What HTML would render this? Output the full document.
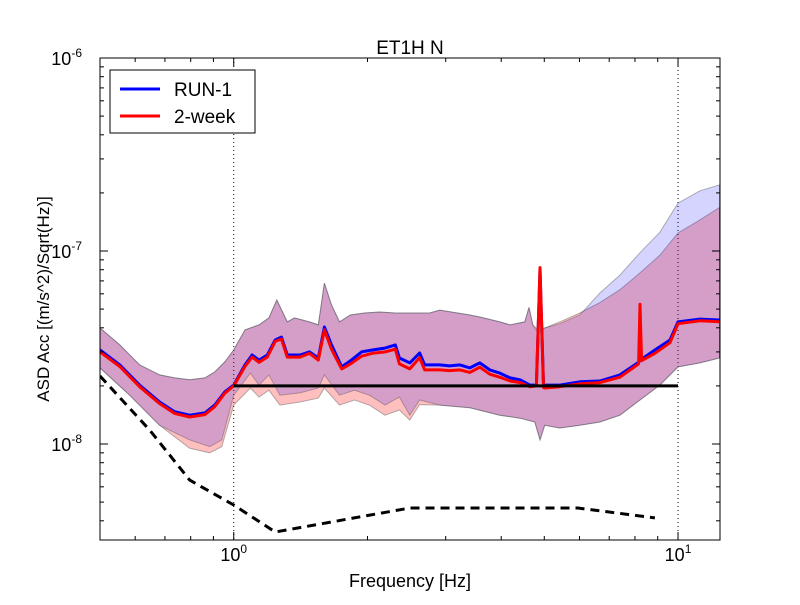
<!DOCTYPE html>
<html><head><meta charset="utf-8"><style>
body{margin:0;background:#fff}
svg{font-family:"Liberation Sans","DejaVu Sans",sans-serif}
</style></head><body>
<svg id="chart" width="800" height="600" viewBox="0 0 800 600" xmlns="http://www.w3.org/2000/svg">
<rect width="800" height="600" fill="#fff"/>
<defs><clipPath id="pc"><rect x="100" y="58" width="620" height="482"/></clipPath></defs>
<g id="grid"></g>
<g id="plot" clip-path="url(#pc)"></g>
<rect x="100" y="58" width="620" height="482" fill="none" stroke="#000" stroke-width="1"/>
<g id="ticks"></g>
<text x="410" y="54" font-size="19" text-anchor="middle">ET1H N</text>
<text x="410" y="587" font-size="18" text-anchor="middle">Frequency [Hz]</text>
<text transform="translate(49,299) rotate(-90)" font-size="17" text-anchor="middle">ASD Acc [(m/s^2)/Sqrt(Hz)]</text>
<g>
<rect x="110" y="70" width="145" height="63" fill="#fff" stroke="#000" stroke-width="1"/>
<line x1="120" y1="89" x2="160" y2="89" stroke="#00f" stroke-width="3"/>
<text x="174" y="96" font-size="19">RUN-1</text>
<line x1="120" y1="116" x2="160" y2="116" stroke="#f00" stroke-width="3"/>
<text x="174" y="123" font-size="19">2-week</text>
</g>
</svg>
<script>
const upFreq=[.5,.554,.614,.681,.736,.796,.861,.906,.954,1,1.06,1.14,1.20,1.25,1.32,1.37,1.48,1.55,1.60,1.66,1.73,1.83,1.97,2.13,2.31,2.49,2.76,2.91,3.40,3.58,3.97,4.19,4.52,4.62,4.71,4.84,5.01,5.42,6.01,6.67,7.40,8.21,9.10,10,11.2,12.4];
const run1Upper=[3.99,3.26,2.57,2.28,2.20,2.15,2.20,2.36,2.66,3.07,3.90,4.14,4.50,5.57,4.29,4.50,4.29,4.14,6.82,5.25,4.29,4.66,4.77,4.83,4.77,4.77,4.77,4.94,4.66,4.55,4.29,4.14,4.29,5.1,4.14,3.76,3.99,4.2,4.66,6.06,7.5,9.8,12.5,17.7,20.5,22.0];
const weekUpper=[3.99,3.26,2.57,2.28,2.20,2.15,2.20,2.36,2.66,3.07,3.90,4.14,4.50,5.57,4.29,4.50,4.29,4.14,6.82,5.25,4.29,4.66,4.77,4.83,4.77,4.77,4.77,4.94,4.66,4.55,4.29,4.14,4.29,5.1,4.14,3.90,3.99,4.29,4.77,5.4,6.3,7.7,9.5,12.4,14.5,16.8];
const lowFreq=[.5,.583,.681,.796,.883,.940,1,1.09,1.14,1.20,1.27,1.41,1.55,1.60,1.73,1.87,2.02,2.19,2.36,2.49,2.62,2.91,3.40,3.97,4.41,4.76,4.89,5.01,5.42,6.01,6.67,7.40,8.21,9.10,10,11.2,12.4];
const run1Lower=[2.48,1.79,1.25,1.05,.97,1.05,1.79,2.33,2.02,2.28,1.79,1.84,1.95,2.28,1.79,1.90,1.79,1.59,1.75,1.41,1.69,1.59,1.54,1.41,1.36,1.30,1.05,1.25,1.21,1.25,1.30,1.41,1.69,2.02,2.51,2.63,2.79];
const weekLower=[2.48,1.79,1.25,.95,.90,.97,1.59,1.95,1.75,1.90,1.59,1.65,1.73,1.95,1.59,1.69,1.59,1.41,1.50,1.33,1.60,1.59,1.54,1.41,1.36,1.30,1.05,1.25,1.21,1.25,1.30,1.41,1.69,2.02,2.51,2.63,2.79];
const midFreq=[.5,.554,.614,.681,.736,.796,.861,.906,.954,1,1.06,1.10,1.14,1.19,1.24,1.28,1.32,1.41,1.48,1.55,1.60,1.66,1.75,1.84,1.94,2.05,2.19,2.31,2.36,2.49,2.62,2.69,2.91,3.06,3.23,3.40,3.58,3.77,3.97,4.19,4.41,4.64,4.80,4.89,4.98,5.01,5.42,6.01,6.67,7.40,8.15,8.21,8.28,8.87,9.59,10,11.2,12.4];
const run1Mid=[3.07,2.57,2.02,1.65,1.47,1.41,1.45,1.59,1.86,2.02,2.57,2.89,2.72,2.89,3.46,3.58,2.89,2.89,3.00,2.79,4.04,3.26,2.51,2.72,3.00,3.07,3.14,3.26,2.79,2.63,2.96,2.57,2.57,2.54,2.57,2.48,2.63,2.42,2.33,2.20,2.15,2.02,2.02,8.0,2.02,2.02,2.02,2.10,2.12,2.28,2.65,2.72,2.75,3.07,3.46,4.29,4.44,4.39];
const weekMid=[3.0,2.52,1.98,1.62,1.44,1.38,1.42,1.56,1.83,2.0,2.52,2.82,2.65,2.82,3.40,3.5,2.82,2.82,2.95,2.72,3.9,3.1,2.45,2.62,2.85,2.95,3.0,3.1,2.6,2.45,2.8,2.42,2.42,2.4,2.42,2.35,2.5,2.3,2.22,2.12,2.08,1.98,2.0,8.2,1.96,1.95,1.98,2.05,2.08,2.22,2.6,5.3,2.7,2.95,3.35,4.2,4.35,4.3];
const limitFreq=[1,10];
const limitVal=[2,2];
const modelFreq=[.5,.647,.796,1,1.24,2.49,5.95,8.87];
const modelVal=[2.25,1.18,.65,.483,.35,.466,.466,.414];
const xTicks=[1,10];
const yTicks=[-8,-7,-6];

const X0=100,X1=720,Y0=58,Y1=540;
const lxmin=Math.log10(0.5),lxmax=Math.log10(12.43),lymax=-6,lymin=-8-96/193;
function sx(f){return X0+(Math.log10(f)-lxmin)/(lxmax-lxmin)*(X1-X0);}
function sy(v){return Y0+(lymax-Math.log10(v*1e-8))/(lymax-lymin)*(Y1-Y0);}
const NS='http://www.w3.org/2000/svg';
function mk(tag,attrs,parent){const e=document.createElementNS(NS,tag);for(const k in attrs)e.setAttribute(k,attrs[k]);parent.appendChild(e);return e;}
function pts(fs,vs){return fs.map((f,i)=>sx(f).toFixed(1)+','+sy(vs[i]).toFixed(1));}
const plot=document.getElementById('plot'),grid=document.getElementById('grid'),ticks=document.getElementById('ticks');

function band(uf,uv,lf,lv,fill,name){
  const p=pts(uf,uv).concat(pts(lf,lv).reverse());
  const el=mk('polygon',{points:p.join(' '),fill:fill,stroke:'rgba(90,90,90,0.45)','stroke-width':1},plot);
  
  
}
band(upFreq,weekUpper,lowFreq,weekLower,'rgba(255,0,0,0.25)','band-2week');
band(upFreq,run1Upper,lowFreq,run1Lower,'rgba(0,0,255,0.17)','band-run1');

function line(fs,vs,stroke,w,name,dash){
  const el=mk('polyline',{points:pts(fs,vs).join(' '),fill:'none',stroke:stroke,'stroke-width':w,'stroke-linejoin':'round'},plot);
  if(dash)el.setAttribute('stroke-dasharray',dash);
  
  
}
line(midFreq,run1Mid,'#00f',3,'line-run1');
line(midFreq,weekMid,'#f00',3,'line-2week');
line(limitFreq,limitVal,'#000',3,'limit-line');
line(modelFreq,modelVal,'#000',3,'model-dashed-line','9,6');

xTicks.forEach((t,i)=>{
  const x=sx(t);
  const g=mk('line',{x1:x,x2:x,y1:Y0,y2:Y1,stroke:'#000','stroke-dasharray':'1,3','stroke-width':1},grid);
  
  
  mk('line',{x1:x,x2:x,y1:Y1,y2:Y1-8,stroke:'#000'},ticks);
  mk('line',{x1:x,x2:x,y1:Y0,y2:Y0+8,stroke:'#000'},ticks);
  const tx=mk('text',{x:x,y:561,'font-size':18,'text-anchor':'middle'},ticks);
  
  
  tx.textContent='10';
  const s=mk('tspan',{dy:-8,'font-size':12},tx);s.textContent=String(Math.round(Math.log10(t)));
});
for(let d=-1;d<=1;d++)for(let m=2;m<=9;m++){const f=m*Math.pow(10,d);if(f<0.5||f>12.43)continue;const x=sx(f);
  mk('line',{x1:x,x2:x,y1:Y1,y2:Y1-4,stroke:'#000'},ticks);mk('line',{x1:x,x2:x,y1:Y0,y2:Y0+4,stroke:'#000'},ticks);}
yTicks.forEach(e=>{
  const y=sy(Math.pow(10,e+8));
  if(e>-6){const g=mk('line',{x1:X0,x2:X1,y1:y,y2:y,stroke:'#000','stroke-dasharray':'1,3','stroke-width':1},grid);
  
  }
  mk('line',{x1:X0,x2:X0+8,y1:y,y2:y,stroke:'#000'},ticks);mk('line',{x1:X1,x2:X1-8,y1:y,y2:y,stroke:'#000'},ticks);
  const tx=mk('text',{x:82,y:y+7,'font-size':18,'text-anchor':'end'},ticks);
  
  
  tx.textContent='10';
  const s=mk('tspan',{dy:-8,'font-size':12},tx);s.textContent=String(e);
});
for(let e=-9;e<=-7;e++)for(let m=2;m<=9;m++){const v=m*Math.pow(10,e+8);const y=sy(v);if(y<Y0||y>Y1)continue;
  mk('line',{x1:X0,x2:X0+4,y1:y,y2:y,stroke:'#000'},ticks);mk('line',{x1:X1,x2:X1-4,y1:y,y2:y,stroke:'#000'},ticks);}
</script>
</body></html>
